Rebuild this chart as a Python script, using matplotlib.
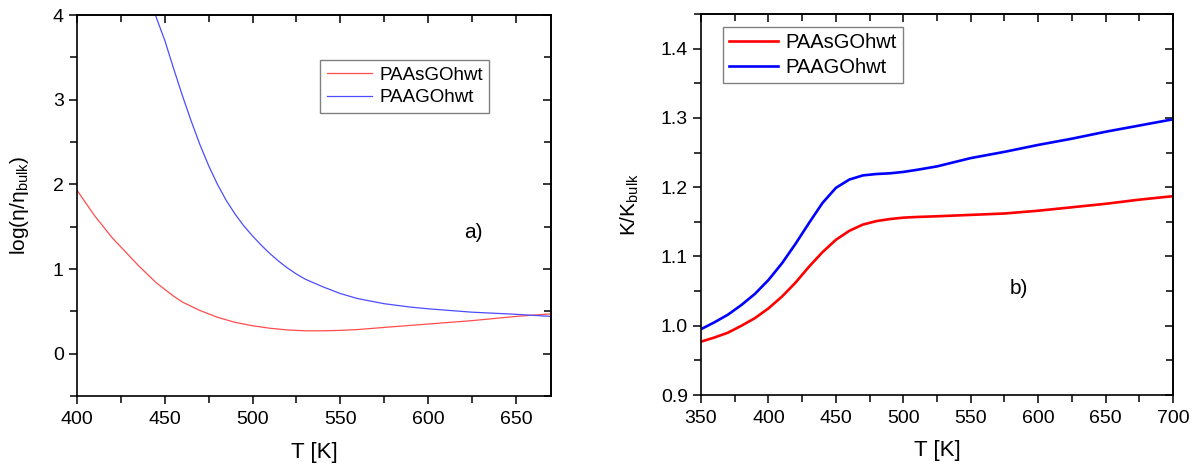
import matplotlib
matplotlib.use("Agg")
import matplotlib.pyplot as plt
from matplotlib.ticker import MultipleLocator, FormatStrFormatter

plt.rcParams['font.family'] = ['Liberation Sans', 'DejaVu Sans']
plt.rcParams['mathtext.fontset'] = 'custom'
plt.rcParams['mathtext.rm'] = 'Liberation Sans'
plt.rcParams['mathtext.it'] = 'Liberation Sans'

# Panel a) data
T_a_red = [400, 405, 410, 415, 420, 425, 430, 435, 440, 445, 450, 455, 460, 465, 470, 475,
           480, 490, 500, 510, 520, 530, 540, 550, 560, 575, 600, 625, 650, 670]
eta_red = [1.93, 1.78, 1.63, 1.50, 1.37, 1.26, 1.15, 1.04, 0.94, 0.84, 0.76, 0.68, 0.61, 0.56,
           0.51, 0.47, 0.43, 0.37, 0.33, 0.30, 0.28, 0.27, 0.27, 0.275, 0.285, 0.31, 0.35, 0.39,
           0.44, 0.47]
T_a_blue = [440, 445, 450, 455, 460, 465, 470, 475, 480, 485, 490, 495, 500, 505, 510, 515,
            520, 525, 530, 540, 550, 560, 575, 590, 600, 625, 650, 670]
eta_blue = [4.28, 3.98, 3.70, 3.37, 3.05, 2.75, 2.47, 2.22, 2.00, 1.81, 1.65, 1.51, 1.39, 1.28,
            1.18, 1.09, 1.01, 0.94, 0.88, 0.79, 0.71, 0.65, 0.59, 0.55, 0.53, 0.49, 0.465, 0.44]

# Panel b) data
T_b = [350, 360, 370, 380, 390, 400, 410, 420, 430, 440, 450, 460, 470, 480, 490, 500,
       510, 525, 550, 575, 600, 625, 650, 675, 700]
K_red = [0.977, 0.983, 0.990, 1.000, 1.011, 1.025, 1.042, 1.062, 1.085, 1.106, 1.124, 1.137,
         1.146, 1.151, 1.154, 1.156, 1.157, 1.158, 1.160, 1.162, 1.166, 1.171, 1.176, 1.182, 1.187]
K_blue = [0.995, 1.005, 1.016, 1.030, 1.046, 1.066, 1.090, 1.118, 1.148, 1.177, 1.199, 1.211,
          1.217, 1.219, 1.220, 1.222, 1.225, 1.230, 1.242, 1.251, 1.261, 1.270, 1.280, 1.289, 1.298]

labels = ['PAAsGOhwt', 'PAAGOhwt']

fig = plt.figure(figsize=(11.94, 4.66), dpi=100)
axA = fig.add_axes([77/1194, 70/466, 474/1194, 381/466])
axB = fig.add_axes([701/1194, 71/466, 472/1194, 381/466])

FS = 14

def style(ax, xmaj, xmin, ymaj, ymin, fmt=None):
    for s in ax.spines.values():
        s.set_linewidth(1.2)
    ax.xaxis.set_major_locator(MultipleLocator(xmaj))
    ax.xaxis.set_minor_locator(MultipleLocator(xmin))
    ax.yaxis.set_major_locator(MultipleLocator(ymaj))
    ax.yaxis.set_minor_locator(MultipleLocator(ymin))
    if fmt:
        ax.yaxis.set_major_formatter(FormatStrFormatter(fmt))
    ax.tick_params(which='both', direction='out', length=6, width=1.1, labelsize=FS,
                   top=False, right=False)
    ax.tick_params(which='minor', length=5)
    ax.tick_params(axis='x', pad=5)
    sx = ax.secondary_xaxis('top')
    sx.xaxis.set_major_locator(MultipleLocator(xmaj))
    sx.xaxis.set_minor_locator(MultipleLocator(xmin))
    sx.tick_params(which='both', direction='in', length=6, width=1.1, labeltop=False)
    sx.tick_params(which='minor', length=5)
    sy = ax.secondary_yaxis('right')
    sy.yaxis.set_major_locator(MultipleLocator(ymaj))
    sy.yaxis.set_minor_locator(MultipleLocator(ymin))
    sy.tick_params(which='both', direction='in', length=6, width=1.1, labelright=False)
    sy.tick_params(which='minor', length=5)
    for s in list(sx.spines.values()) + list(sy.spines.values()):
        s.set_linewidth(1.2)

# Panel a
axA.plot(T_a_red, eta_red, color='#ff4d4d', lw=0.9, label=labels[0])
axA.plot(T_a_blue, eta_blue, color='#4d4dff', lw=0.9, label=labels[1])
axA.set_xlim(400, 670)
axA.set_ylim(-0.5, 4)
style(axA, 50, 25, 1, 0.5)
axA.set_xlabel('T [K]', fontsize=16, labelpad=10)
axA.set_ylabel('log(η/η$_{\\rm bulk}$)', fontsize=15, labelpad=16)
axA.text(626, 1.43, 'a)', fontsize=15, ha='center', va='center')
legA = axA.legend(loc='upper left', bbox_to_anchor=(0.513, 0.882), borderaxespad=0,
                  fontsize=13.5, frameon=True, fancybox=False, framealpha=1,
                  edgecolor='#808080', handlelength=2.4, handletextpad=0.4,
                  borderpad=0.35, labelspacing=0.3)
legA.get_frame().set_linewidth(1.0)

# Panel b
axB.plot(T_b, K_red, color='#ff0000', lw=1.9, label=labels[0])
axB.plot(T_b, K_blue, color='#0000ff', lw=1.9, label=labels[1])
axB.set_xlim(350, 700)
axB.set_ylim(0.9, 1.45)
style(axB, 50, 25, 0.1, 0.05, '%.1f')
axB.set_xlabel('T [K]', fontsize=16, labelpad=9)
axB.set_ylabel('K/K$_{\\rm bulk}$', fontsize=15, labelpad=14)
axB.text(586, 1.054, 'b)', fontsize=15, ha='center', va='center')
legB = axB.legend(loc='upper left', bbox_to_anchor=(0.047, 0.966), borderaxespad=0,
                  fontsize=14.5, frameon=True, fancybox=False, framealpha=1,
                  edgecolor='#808080', handlelength=2.4, handletextpad=0.4,
                  borderpad=0.3, labelspacing=0.3)
legB.get_frame().set_linewidth(1.0)

fig.savefig('out.png', dpi=100)
